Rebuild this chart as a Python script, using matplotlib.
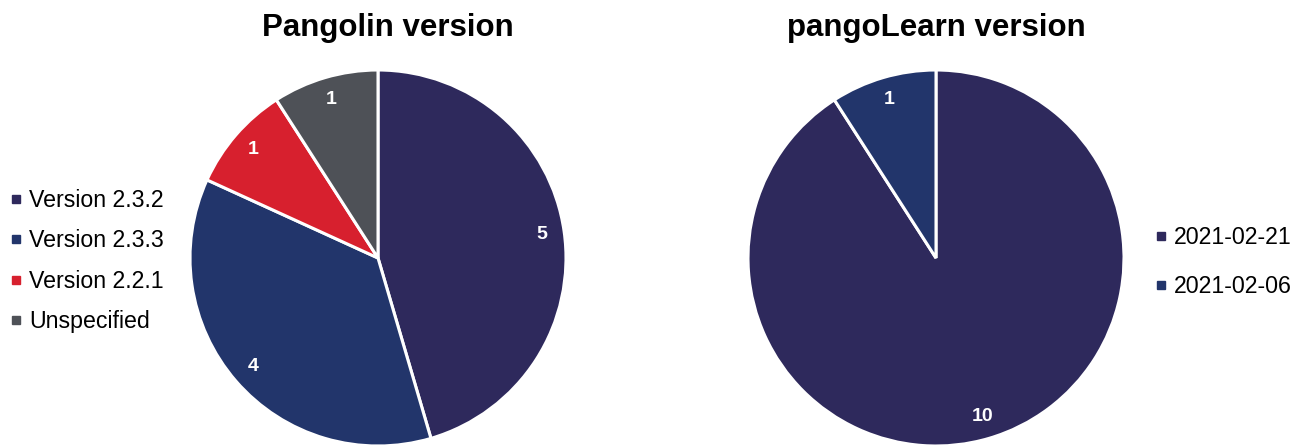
import matplotlib
matplotlib.use("Agg")
import matplotlib.pyplot as plt
from matplotlib.lines import Line2D

plt.rcParams["font.family"] = ["Liberation Sans", "DejaVu Sans"]

# Pangolin version counts
pangolin_labels = ["Version 2.3.2", "Version 2.3.3", "Version 2.2.1", "Unspecified"]
pangolin_counts = [5, 4, 1, 1]
pangolin_colors = ["#2E295C", "#22356B", "#D7202E", "#4E5157"]

# pangoLearn version counts
learn_labels = ["2021-02-21", "2021-02-06"]
learn_counts = [10, 1]
learn_colors = ["#2E295C", "#22356B"]

W, H = 1309, 446
fig = plt.figure(figsize=(W / 100, H / 100), dpi=100)

R = 188


def pie_axes(cx, cy):
    # cx, cy in pixels from top-left
    return fig.add_axes([(cx - R) / W, (H - cy - R) / H, 2 * R / W, 2 * R / H])


def draw_pie(ax, counts, colors):
    wedges, texts = ax.pie(
        counts, colors=colors, startangle=90, counterclock=False,
        labels=[str(c) for c in counts], labeldistance=0.88,
        wedgeprops=dict(edgecolor="white", linewidth=2.2),
        textprops=dict(color="white", fontsize=14, fontweight="bold"),
    )
    for t in texts:
        t.set_ha("center")
        t.set_va("center")
    ax.set_xlim(-1, 1)
    ax.set_ylim(-1, 1)
    ax.set_aspect("equal")
    return wedges


ax1 = pie_axes(378, 258)
draw_pie(ax1, pangolin_counts, pangolin_colors)
ax2 = pie_axes(936, 258)
draw_pie(ax2, learn_counts, learn_colors)

fig.text(388 / W, 1 - 28 / H, "Pangolin version", ha="center", va="center",
         fontsize=22.5, fontweight="bold")
fig.text(936 / W, 1 - 28 / H, "pangoLearn version", ha="center", va="center",
         fontsize=22.5, fontweight="bold")


def handles(colors):
    return [Line2D([], [], marker="s", linestyle="none", markersize=6,
                   markerfacecolor=c, markeredgecolor=c) for c in colors]


fig.legend(handles(pangolin_colors), pangolin_labels,
           loc="center left", bbox_to_anchor=(-2 / W, 1 - 261 / H),
           frameon=False, fontsize=16.7, handlelength=0.55, handletextpad=0.3,
           labelspacing=0.75, borderpad=0)
fig.legend(handles(learn_colors), learn_labels,
           loc="center left", bbox_to_anchor=(1143 / W, 1 - 262 / H),
           frameon=False, fontsize=16.7, handlelength=0.55, handletextpad=0.3,
           labelspacing=1.13, borderpad=0)

fig.savefig("out.png", dpi=100)
